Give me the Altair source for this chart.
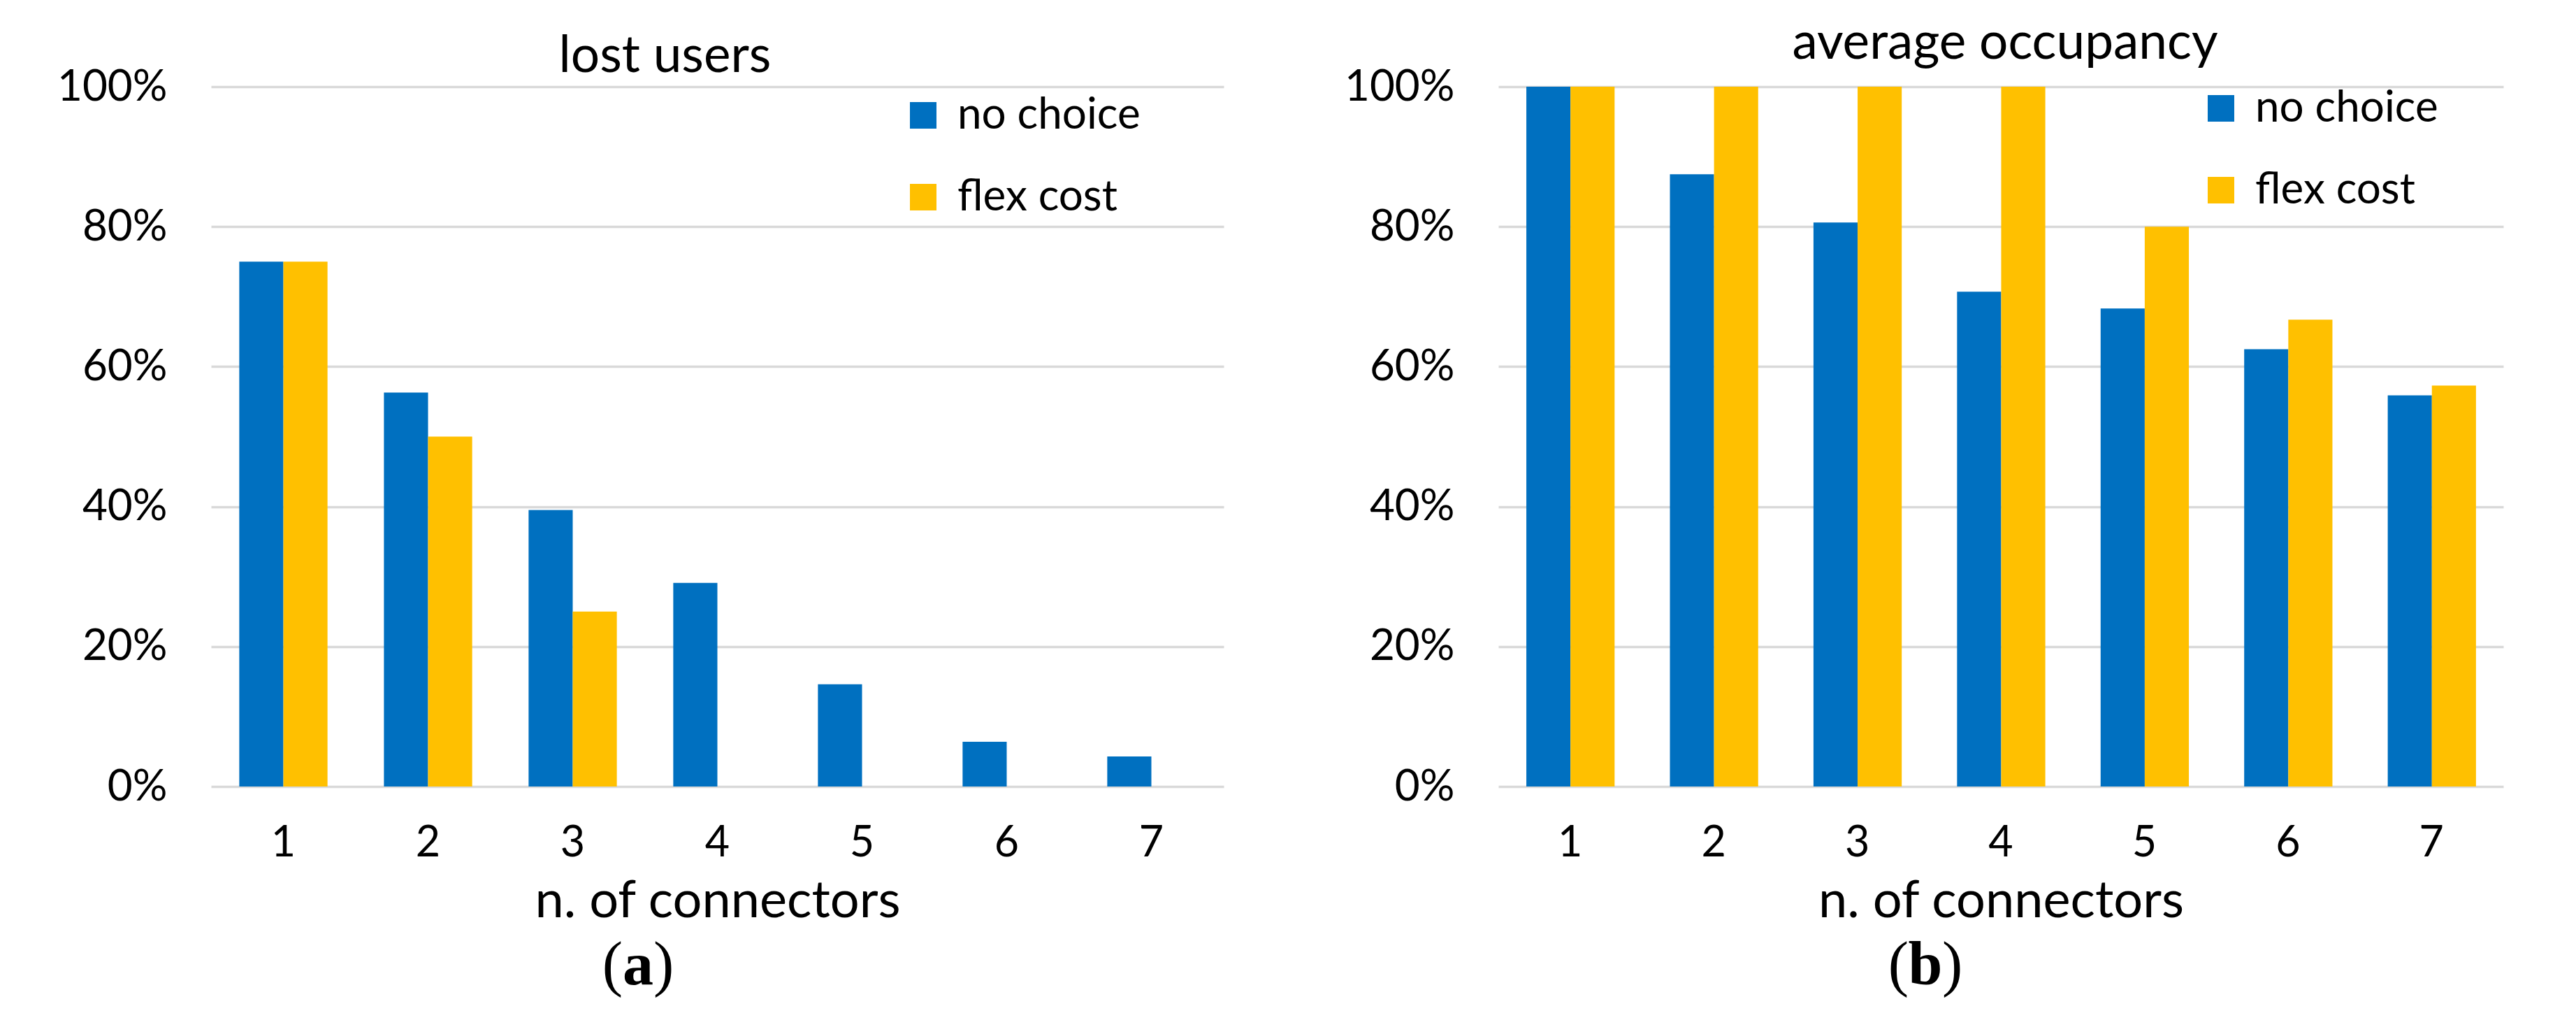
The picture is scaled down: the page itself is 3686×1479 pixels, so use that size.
import altair as alt
import pandas as pd

connectors = [1, 2, 3, 4, 5, 6, 7]
series = ["no choice", "flex cost"]
colors = ["#0070C0", "#FFC000"]
lost_no_choice = [75.0, 56.3, 39.5, 29.1, 14.6, 6.4, 4.3]
lost_flex_cost = [75.0, 50.0, 25.0, 0.0, 0.0, 0.0, 0.0]
occ_no_choice = [100.0, 87.5, 80.6, 70.7, 68.3, 62.5, 55.9]
occ_flex_cost = [100.0, 100.0, 100.0, 100.0, 80.0, 66.7, 57.3]
y_ticks = [0, 20, 40, 60, 80, 100]

FONT = "Lato"
SERIF = "Liberation Serif"
H = 1001


def long_table(a, b):
    rows = []
    for i, n in enumerate(connectors):
        rows.append({"n": n, "series": series[0], "value": a[i]})
        rows.append({"n": n, "series": series[1], "value": b[i]})
    return pd.DataFrame(rows)


def panel(df, title, title_x, title_y, width, legend_x, legend_y, letter, letter_w):
    bars = alt.Chart(df).mark_bar().encode(
        x=alt.X(
            "n:O",
            scale=alt.Scale(paddingInner=0.39, paddingOuter=0.195),
            axis=alt.Axis(
                title="n. of connectors", labelAngle=0, domain=False, ticks=False,
                labelFontSize=61, labelPadding=51, titleFontSize=74,
                titleFontWeight="normal", titleY=186, titleBaseline="alphabetic",
                grid=False,
            ),
        ),
        xOffset=alt.XOffset("series:N", sort=series,
                            scale=alt.Scale(paddingInner=0, paddingOuter=0)),
        y=alt.Y(
            "value:Q",
            scale=alt.Scale(domain=[0, 100], nice=False),
            axis=alt.Axis(
                values=y_ticks, labelExpr="datum.value + '%'", title=None,
                domain=False, ticks=False, labelFontSize=62, labelPadding=63,
                gridColor="#D9D9D9", gridWidth=3.5,
            ),
        ),
        color=alt.Color(
            "series:N", sort=series,
            scale=alt.Scale(domain=series, range=colors),
            legend=alt.Legend(
                title=None, orient="none", legendX=legend_x, legendY=legend_y,
                symbolType="square", symbolSize=1444, symbolStrokeWidth=0,
                labelFontSize=62, labelOffset=18, rowPadding=55, padding=0,
                labelLimit=1000,
            ),
        ),
    )
    one = alt.Data(values=[{"k": 1}])
    ttl = alt.Chart(one).mark_text(text=title, font=FONT, fontSize=73, align="center",
                                   baseline="alphabetic", color="black").encode(
        x=alt.value(title_x), y=alt.value(title_y))
    cx = 611
    cy = 1284
    lp = alt.Chart(one).mark_text(text="(", font=SERIF, fontSize=88, align="right",
                                  baseline="alphabetic", color="black").encode(
        x=alt.value(cx - letter_w / 2), y=alt.value(cy))
    lt = alt.Chart(one).mark_text(text=letter, font=SERIF, fontSize=88, fontWeight="bold",
                                  align="center", baseline="alphabetic", color="black").encode(
        x=alt.value(cx), y=alt.value(cy))
    rp = alt.Chart(one).mark_text(text=")", font=SERIF, fontSize=88, align="left",
                                  baseline="alphabetic", color="black").encode(
        x=alt.value(cx + letter_w / 2), y=alt.value(cy))
    return alt.layer(bars, ttl, lp, lt, rp).properties(width=width, height=H)


left = panel(long_table(lost_no_choice, lost_flex_cost), "lost users", 1449 / 2 - 75, -21,
             1449, 988, 10, "a", 44)
right = panel(long_table(occ_no_choice, occ_flex_cost), "average occupancy", 1438 / 2 + 6, -40,
              1438, 1003, 0, "b", 48)

chart = (
    alt.hconcat(left, right, spacing=393, bounds="flush")
    .resolve_scale(color="independent", x="independent", y="independent")
    .resolve_legend(color="independent")
    .configure(font=FONT, padding={"left": 73, "top": 18, "right": 20, "bottom": 10})
    .configure_view(stroke=None)
    .configure_axis(labelColor="black", titleColor="black", labelFont=FONT, titleFont=FONT)
    .configure_legend(labelColor="black", labelFont=FONT)
)

chart.save("out.html", embed_options={"renderer": "svg", "actions": False})
